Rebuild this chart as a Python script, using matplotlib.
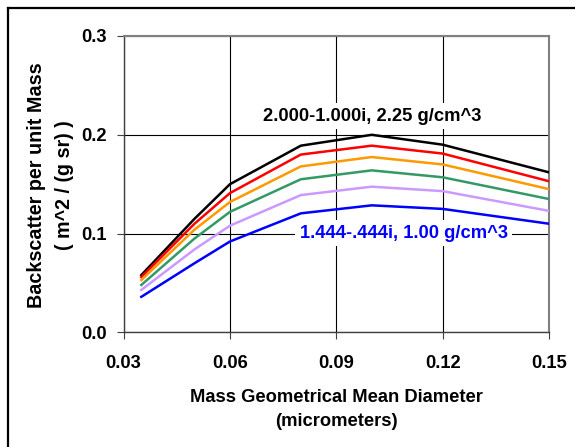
import matplotlib
matplotlib.use("Agg")
import matplotlib.pyplot as plt
from matplotlib.lines import Line2D

plt.rcParams['font.family'] = ['Liberation Sans', 'DejaVu Sans']
plt.rcParams['font.weight'] = 'bold'

diam = [0.035, 0.05, 0.06, 0.08, 0.10, 0.12, 0.15]
black = [0.058, 0.115, 0.150, 0.189, 0.200, 0.190, 0.162]
red = [0.056, 0.110, 0.141, 0.180, 0.189, 0.181, 0.153]
orange = [0.053, 0.104, 0.132, 0.168, 0.1775, 0.170, 0.145]
green = [0.048, 0.095, 0.122, 0.155, 0.164, 0.157, 0.135]
violet = [0.043, 0.084, 0.108, 0.139, 0.1475, 0.143, 0.123]
blue = [0.036, 0.070, 0.092, 0.1205, 0.1286, 0.125, 0.110]

series = [black, red, orange, green, violet, blue]
colors = ['#000000', '#FF0000', '#FF9900', '#339966', '#CC99FF', '#0000FF']

xticks = [0.03, 0.06, 0.09, 0.12, 0.15]
yticks = [0.0, 0.1, 0.2, 0.3]

FS = 13.2

W, H = 575, 447
fig = plt.figure(figsize=(W / 100, H / 100), dpi=100)
ax = fig.add_axes([123.6 / W, 1 - 332.4 / H, (549 - 123.6) / W, (332.4 - 36) / H])

for vals, c in zip(series, colors):
    ax.plot(diam, vals, color=c, lw=1.8, zorder=3, solid_joinstyle='miter')

ax.set_xlim(0.03, 0.15)
ax.set_ylim(0, 0.3)
ax.set_xticks(xticks)
ax.set_xticklabels([f"{v:.2f}" for v in xticks])
ax.set_yticks(yticks)
ax.set_yticklabels([f"{v:.1f}" for v in yticks])
ax.grid(True, color='black', lw=0.8, zorder=1)
ax.set_axisbelow(True)
ax.tick_params(axis='both', direction='out', length=5, width=0.8, colors='#404040',
               labelcolor='black', labelsize=FS)
ax.tick_params(axis='x', pad=11)
ax.tick_params(axis='y', pad=7)
for s in ['left', 'bottom']:
    ax.spines[s].set_color('#404040')
    ax.spines[s].set_linewidth(1.0)
for s in ['top', 'right']:
    ax.spines[s].set_color('#808080')
    ax.spines[s].set_linewidth(1.5)
for lab in ax.get_xticklabels() + ax.get_yticklabels():
    lab.set_fontweight('bold')

ax.text(0.1, 0.219, "2.000-1.000i, 2.25 g/cm^3", ha='center', va='center',
        fontsize=FS, fontweight='bold', color='black', zorder=4,
        bbox=dict(facecolor='white', edgecolor='none', pad=3))
ax.text(0.109, 0.1005, "1.444-.444i, 1.00 g/cm^3", ha='center', va='center',
        fontsize=FS, fontweight='bold', color='#0000FF', zorder=4,
        bbox=dict(facecolor='white', edgecolor='none', pad=3))

fig.text(336 / W, 1 - 397 / H, "Mass Geometrical Mean Diameter", ha='center', va='center',
         fontsize=FS, fontweight='bold')
fig.text(336 / W, 1 - 422 / H, "(micrometers)", ha='center', va='center',
         fontsize=FS, fontweight='bold')
fig.text(37 / W, 1 - 185 / H, "Backscatter per unit Mass", ha='center', va='center',
         rotation=90, fontsize=14.2, fontweight='bold')
fig.text(64 / W, 1 - 185 / H, "( m^2 / (g sr) )", ha='center', va='center',
         rotation=90, fontsize=14.2, fontweight='bold')

# outer chart-area frame (left and top edges visible)
fig.add_artist(Line2D([7.5 / W, 7.5 / W], [0, 1 - 7.5 / H], transform=fig.transFigure,
                      color='black', lw=1.6))
fig.add_artist(Line2D([7.5 / W, 1], [1 - 7.5 / H, 1 - 7.5 / H], transform=fig.transFigure,
                      color='black', lw=1.6))

fig.savefig("out.png", dpi=100)
